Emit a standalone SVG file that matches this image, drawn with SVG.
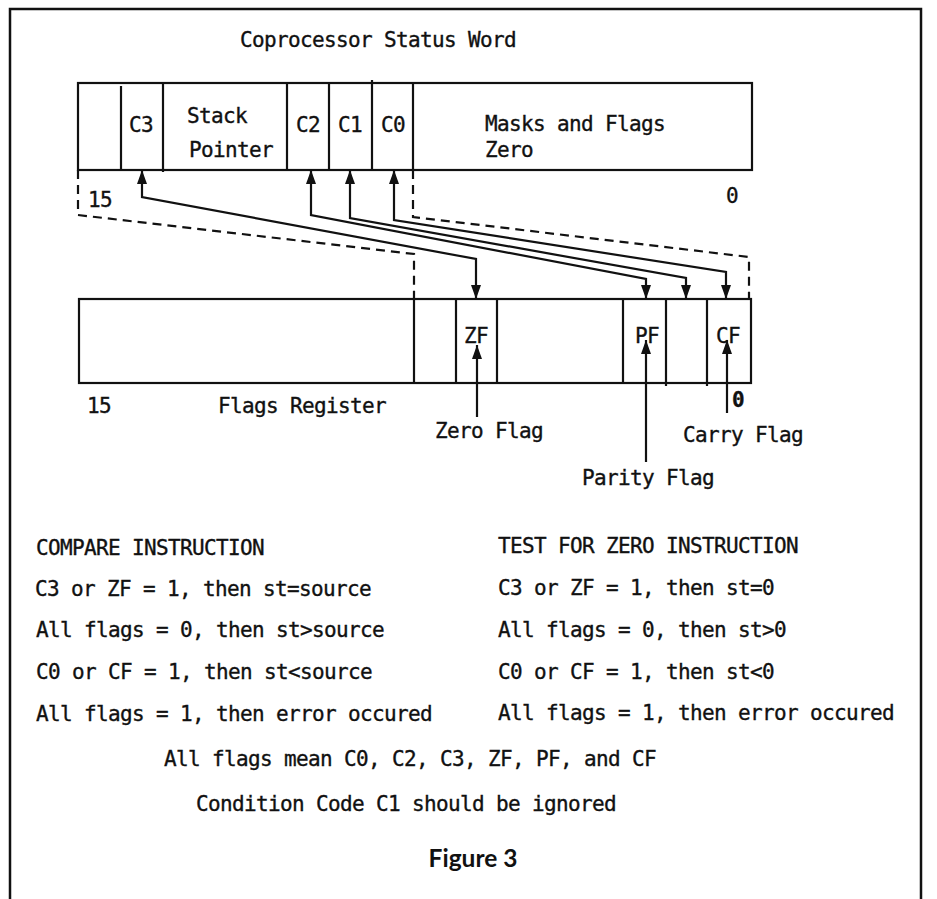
<svg xmlns="http://www.w3.org/2000/svg" width="937" height="899" viewBox="0 0 937 899">
<style>
.t{font-family:"DejaVu Sans Mono","Liberation Mono",monospace;font-size:21px;letter-spacing:-0.64px;fill:#111;stroke:#111;stroke-width:0.35}
.m{text-anchor:middle}
.box{fill:none;stroke:#111;stroke-width:2.2}
.div{stroke:#111;stroke-width:2.2}
.con{fill:none;stroke:#111;stroke-width:2.2;stroke-linejoin:miter}
.dash{fill:none;stroke:#111;stroke-width:2.2;stroke-dasharray:9 6}
</style>
<defs>
<marker id="ah" viewBox="0 0 14 10" refX="14" refY="5" markerWidth="14" markerHeight="10" markerUnits="userSpaceOnUse" orient="auto-start-reverse">
<path d="M0,0 L14,5 L0,10 z" fill="#111"/>
</marker>
</defs>
<rect width="937" height="899" fill="#fff"/>
<path d="M10,899 L10,9 L921,9 L921,899" fill="none" stroke="#111" stroke-width="2.5"/>
<g id="title"><text class="t" x="240" y="47">Coprocessor Status Word</text></g>
<g id="status-word">
<rect class="box" x="78" y="83" width="674" height="87"/>
<line class="div" x1="121" y1="86" x2="121" y2="170"/>
<line class="div" x1="163" y1="83" x2="163" y2="172"/>
<line class="div" x1="287" y1="83" x2="287" y2="170"/>
<line class="div" x1="329" y1="83" x2="329" y2="170"/>
<line class="div" x1="372" y1="80" x2="372" y2="170"/>
<line class="div" x1="413" y1="83" x2="413" y2="170"/>
<text class="t m" x="141" y="132">C3</text>
<text class="t" x="187" y="123">Stack</text>
<text class="t" x="189" y="157">Pointer</text>
<text class="t m" x="308" y="132">C2</text>
<text class="t m" x="350" y="132">C1</text>
<text class="t m" x="393" y="132">C0</text>
<text class="t" x="485" y="131">Masks and Flags</text>
<text class="t" x="485" y="157">Zero</text>
<text class="t" x="88" y="207">15</text>
<text class="t m" x="732" y="203">0</text>
</g>
<g id="flags-register">
<rect class="box" x="79" y="299" width="672" height="84"/>
<line class="div" x1="414" y1="299" x2="414" y2="383"/>
<line class="div" x1="456" y1="299" x2="456" y2="383"/>
<line class="div" x1="497" y1="299" x2="497" y2="383"/>
<line class="div" x1="623" y1="299" x2="623" y2="383"/>
<line class="div" x1="666" y1="299" x2="666" y2="386"/>
<line class="div" x1="707" y1="299" x2="707" y2="386"/>
<text class="t m" x="476" y="343">ZF</text>
<text class="t m" x="647" y="343">PF</text>
<text class="t m" x="728" y="343">CF</text>
<text class="t" x="87" y="413">15</text>
<text class="t" x="218" y="413">Flags Register</text>
<text class="t m" x="738" y="407" font-weight="bold">0</text>
</g>
<g id="flag-labels">
<text class="t" x="435" y="438">Zero Flag</text>
<text class="t" x="582" y="485">Parity Flag</text>
<text class="t" x="683" y="442">Carry Flag</text>
</g>
<g id="connectors">
<path class="dash" d="M78,170 L78,215 L414,254 L414,299"/>
<path class="dash" d="M413,170 L413,217 L749,257 L749,299"/>
<path class="con" d="M142,170 L142,197 L476,259 L476,299" marker-start="url(#ah)" marker-end="url(#ah)"/>
<path class="con" d="M311,170 L311,215 L646,279 L646,299" marker-start="url(#ah)" marker-end="url(#ah)"/>
<path class="con" d="M350,170 L350,218 L686,278 L686,299" marker-start="url(#ah)" marker-end="url(#ah)"/>
<path class="con" d="M394,170 L394,220 L726,272 L726,299" marker-start="url(#ah)" marker-end="url(#ah)"/>
<path class="con" d="M477,417 L477,345" marker-end="url(#ah)"/>
<path class="con" d="M646,462 L646,340" marker-end="url(#ah)"/>
<path class="con" d="M727,413 L727,340" marker-end="url(#ah)"/>
</g>
<g id="notes">
<text class="t" x="36" y="555">COMPARE INSTRUCTION</text>
<text class="t" x="35" y="596">C3 or ZF = 1, then st=source</text>
<text class="t" x="36" y="637">All flags = 0, then st&gt;source</text>
<text class="t" x="36" y="679">C0 or CF = 1, then st&lt;source</text>
<text class="t" x="36" y="721">All flags = 1, then error occured</text>
<text class="t" x="498" y="553">TEST FOR ZERO INSTRUCTION</text>
<text class="t" x="498" y="595">C3 or ZF = 1, then st=0</text>
<text class="t" x="498" y="637">All flags = 0, then st&gt;0</text>
<text class="t" x="498" y="679">C0 or CF = 1, then st&lt;0</text>
<text class="t" x="498" y="720">All flags = 1, then error occured</text>
<text class="t" x="164" y="766">All flags mean C0, C2, C3, ZF, PF, and CF</text>
<text class="t" x="196" y="811">Condition Code C1 should be ignored</text>
</g>
<g id="caption"><text x="473" y="867" text-anchor="middle" font-family="Lato,'Liberation Sans',sans-serif" font-weight="bold" font-size="24.5" fill="#111">Figure 3</text></g>
</svg>
